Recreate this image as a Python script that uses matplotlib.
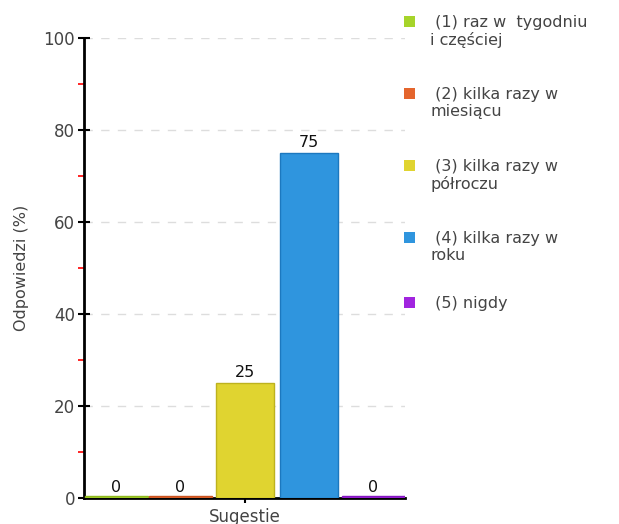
import matplotlib
matplotlib.use("Agg")
import matplotlib.pyplot as plt
from matplotlib.patches import Rectangle
import numpy as np

# dane
categories = ['(1) raz w  tygodniu\ni częściej', '(2) kilka razy w\nmiesiącu',
              '(3) kilka razy w\npółroczu', '(4) kilka razy w\nroku', '(5) nigdy']
values = [0, 0, 25, 75, 0]
colors = ['#a6d42a', '#e4652d', '#e0d430', '#2f95de', '#a124df']
edges = ['#8fb81e', '#c9521f', '#bdb21e', '#1c78bf', '#8416c0']
xlabel = 'Sugestie'
ylabel = 'Odpowiedzi (%)'

fig = plt.figure(figsize=(6.19, 5.24), dpi=100)
ax = fig.add_axes([0.1357, 0.0496, 0.519, 0.878])

pos = np.arange(len(values)) + 0.5
for i in range(len(values)):
    h = values[i] if values[i] > 0 else 0.45
    w = 0.9 if values[i] > 0 else 0.98
    ax.bar(pos[i], h, w, color=colors[i], edgecolor=edges[i], linewidth=1, zorder=3)
    ax.text(pos[i], values[i] + 0.6, str(values[i]), ha='center', va='bottom',
            fontsize=11.5, color='#111111', zorder=4)

ax.set_xlim(0, 5)
ax.set_ylim(0, 100)
ax.set_yticks(np.arange(0, 101, 20))
ax.set_yticks(np.arange(10, 100, 20), minor=True)
ax.tick_params(axis='y', which='major', direction='inout', length=9, width=1.5,
               color='black', labelsize=12, labelcolor='#444444', pad=2)
ax.tick_params(axis='y', which='minor', direction='out', length=4, width=1.2, color='#ff0000')
ax.set_xticks([2.5])
ax.set_xticklabels([xlabel])
ax.tick_params(axis='x', direction='inout', length=7, width=1.5, labelsize=12,
               labelcolor='#444444', pad=4)
ax.set_ylabel(ylabel, fontsize=11.5, color='#444444', labelpad=10)

ax.grid(axis='y', which='major', linestyle=(0, (6, 6)), color='#dddddd', linewidth=1, zorder=0)
for s in ['top', 'right']:
    ax.spines[s].set_visible(False)
ax.spines['left'].set_linewidth(2)
ax.spines['bottom'].set_linewidth(2)

# legenda
ys = [0.958, 0.820, 0.683, 0.545, 0.422]
for i in range(len(categories)):
    fig.patches.append(Rectangle((0.652, ys[i] - 0.009), 0.018, 0.021, transform=fig.transFigure,
                                 facecolor=colors[i], edgecolor='none'))
    fig.text(0.695, ys[i] + 0.014, ' ' + categories[i], fontsize=11.5,
             color='#444444', va='top', ha='left', linespacing=1.15)

plt.savefig('out.png', dpi=100)
